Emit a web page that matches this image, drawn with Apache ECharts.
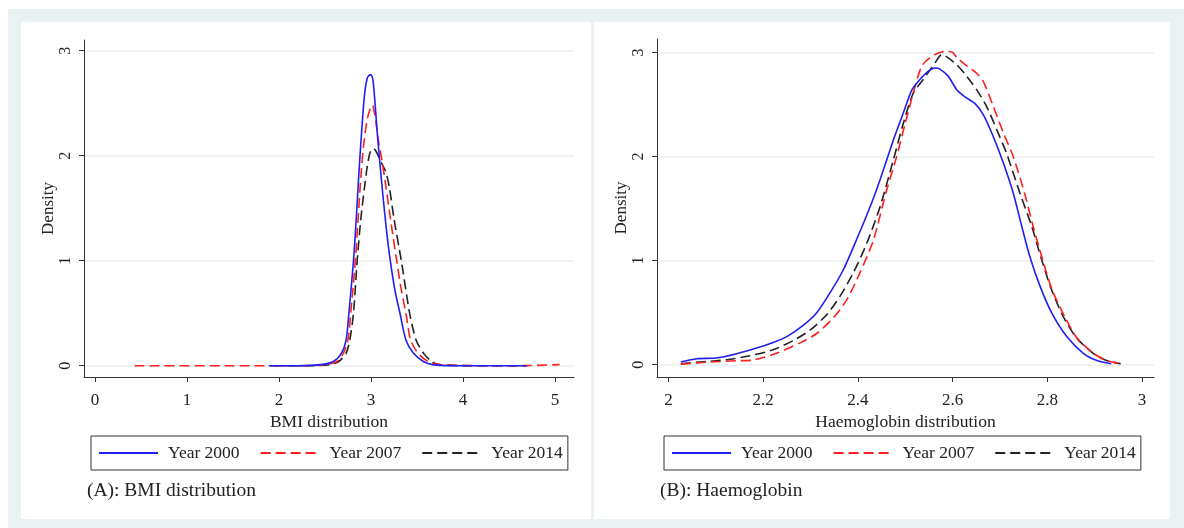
<!DOCTYPE html>
<html>
<head>
<meta charset="utf-8">
<script src="https://cdn.jsdelivr.net/npm/echarts@6/dist/echarts.min.js"></script>
<style>
html,body{margin:0;padding:0;background:#fff;}
#c{width:1184px;height:528px;}
</style>
</head>
<body>
<div id="c"></div>
<script>
// ---- Panel A: BMI distribution (log BMI) ----
var bmiX2000 = [1.89, 2.2, 2.45, 2.59, 2.68, 2.73, 2.76, 2.81, 2.84, 2.87, 2.90, 2.93, 2.96, 2.99, 3.00, 3.02, 3.04, 3.07, 3.10, 3.13, 3.17, 3.21, 3.26, 3.315, 3.38, 3.46, 3.57, 3.67, 3.9, 4.3, 4.69];
var bmiY2000 = [0.0, 0.0, 0.01, 0.04, 0.12, 0.245, 0.5, 1.0, 1.4, 1.85, 2.25, 2.58, 2.74, 2.77, 2.77, 2.73, 2.55, 2.2, 1.9, 1.62, 1.28, 1.0, 0.72, 0.5, 0.245, 0.12, 0.04, 0.01, 0.0, 0.0, 0.0];

var bmiX2007 = [0.43, 1.5, 2.3, 2.5, 2.63, 2.70, 2.75, 2.78, 2.83, 2.86, 2.89, 2.92, 2.96, 3.00, 3.015, 3.04, 3.08, 3.12, 3.16, 3.22, 3.28, 3.33, 3.38, 3.43, 3.51, 3.62, 3.75, 4.2, 4.6, 5.05];
var bmiY2007 = [0.0, 0.0, 0.0, 0.01, 0.04, 0.12, 0.245, 0.5, 1.0, 1.4, 1.8, 2.1, 2.35, 2.47, 2.48, 2.40, 2.15, 1.95, 1.72, 1.35, 1.0, 0.72, 0.5, 0.245, 0.12, 0.04, 0.01, 0.0, 0.0, 0.01];

var bmiX2014 = [1.95, 2.3, 2.55, 2.65, 2.73, 2.77, 2.81, 2.85, 2.89, 2.93, 2.96, 2.99, 3.025, 3.05, 3.09, 3.12, 3.16, 3.2, 3.25, 3.33, 3.42, 3.49, 3.57, 3.66, 3.75, 4.1, 4.7];
var bmiY2014 = [0.0, 0.0, 0.01, 0.04, 0.12, 0.245, 0.5, 1.0, 1.4, 1.7, 1.9, 2.03, 2.07, 2.05, 1.98, 1.92, 1.85, 1.7, 1.4, 1.0, 0.5, 0.245, 0.12, 0.04, 0.01, 0.0, 0.0];

// ---- Panel B: Haemoglobin (log Hb) ----
var hbX2000 = [2.026, 2.06, 2.10, 2.144, 2.186, 2.221, 2.25, 2.285, 2.313, 2.341, 2.369, 2.397, 2.426, 2.447, 2.475, 2.496, 2.514, 2.531, 2.549, 2.563, 2.573, 2.591, 2.609, 2.63, 2.647, 2.665, 2.686, 2.707, 2.728, 2.746, 2.763, 2.785, 2.809, 2.841, 2.876, 2.905, 2.935];
var hbY2000 = [0.026, 0.058, 0.064, 0.106, 0.16, 0.214, 0.27, 0.38, 0.50, 0.69, 0.91, 1.20, 1.52, 1.78, 2.16, 2.42, 2.64, 2.74, 2.82, 2.85, 2.84, 2.77, 2.64, 2.56, 2.51, 2.40, 2.19, 1.94, 1.65, 1.33, 1.04, 0.75, 0.50, 0.27, 0.11, 0.04, 0.01];

var hbX2007 = [2.026, 2.088, 2.144, 2.179, 2.228, 2.278, 2.313, 2.348, 2.376, 2.404, 2.433, 2.459, 2.48, 2.50, 2.521, 2.535, 2.552, 2.573, 2.587, 2.60, 2.609, 2.63, 2.651, 2.665, 2.686, 2.707, 2.728, 2.753, 2.77, 2.79, 2.81, 2.837, 2.862, 2.897, 2.925, 2.95];
var hbY2007 = [0.006, 0.026, 0.038, 0.045, 0.11, 0.21, 0.30, 0.45, 0.62, 0.88, 1.20, 1.65, 1.97, 2.32, 2.68, 2.87, 2.95, 3.0, 3.01, 3.0, 2.95, 2.87, 2.80, 2.72, 2.48, 2.23, 2.0, 1.63, 1.33, 1.01, 0.72, 0.46, 0.26, 0.11, 0.04, 0.015];

var hbX2014 = [2.026, 2.067, 2.123, 2.172, 2.221, 2.264, 2.30, 2.334, 2.362, 2.39, 2.419, 2.447, 2.475, 2.496, 2.517, 2.538, 2.563, 2.577, 2.587, 2.609, 2.63, 2.651, 2.672, 2.693, 2.714, 2.742, 2.767, 2.788, 2.809, 2.834, 2.862, 2.897, 2.925, 2.955];
var hbY2014 = [0.01, 0.026, 0.048, 0.086, 0.144, 0.233, 0.336, 0.48, 0.656, 0.88, 1.17, 1.52, 1.97, 2.32, 2.61, 2.74, 2.90, 2.98, 2.96, 2.88, 2.77, 2.64, 2.48, 2.26, 2.03, 1.65, 1.33, 1.01, 0.72, 0.46, 0.256, 0.11, 0.04, 0.01];

var seriesNames = ['Year 2000', 'Year 2007', 'Year 2014'];
var bmiTicks = [0, 1, 2, 3, 4, 5];
var hbTicks = [2, 2.2, 2.4, 2.6, 2.8, 3];
var densityTicks = [0, 1, 2, 3];
var xTitles = ['BMI distribution', 'Haemoglobin distribution'];
var captions = ['(A): BMI distribution', '(B): Haemoglobin'];

function pairs(xs, ys) { return xs.map(function (x, i) { return [x, ys[i]]; }); }

var FONT = '"Liberation Serif","Times New Roman",serif';
var TXT = '#222';
var AX = '#333';
var GRIDC = '#e9f1f3';
var BG = '#e9f1f3';

var styles = [
  { color: '#1f1ff5', type: 'solid' },
  { color: '#ff1f1f', type: [10, 5] },
  { color: '#222222', type: [10, 5] }
];

function makeX(idx, min, max, ticks, name) {
  return {
    type: 'value', gridIndex: idx, min: min, max: max,
    name: name, nameLocation: 'middle', nameGap: 30,
    nameTextStyle: { fontFamily: FONT, fontSize: 17.5, color: TXT },
    axisLine: { onZero: false, lineStyle: { color: AX, width: 1 } },
    axisTick: { show: true, length: 5, customValues: ticks, lineStyle: { color: AX } },
    axisLabel: { customValues: ticks, margin: 15, fontFamily: FONT, fontSize: 17, color: TXT,
      formatter: function (v) { return String(Math.round(v * 10) / 10); } },
    splitLine: { show: false }
  };
}
function makeY(idx, min, max) {
  return {
    type: 'value', gridIndex: idx, min: min, max: max,
    name: 'Density', nameLocation: 'middle', nameGap: 23,
    nameTextStyle: { fontFamily: FONT, fontSize: 17, color: TXT },
    axisLine: { onZero: false, show: true, lineStyle: { color: AX, width: 1 } },
    axisTick: { show: true, length: 5, customValues: densityTicks, lineStyle: { color: AX } },
    axisLabel: { customValues: densityTicks, rotate: 90, margin: 10, fontFamily: FONT, fontSize: 16, color: TXT },
    splitLine: { show: true, lineStyle: { color: GRIDC, width: 1.5 } }
  };
}

var data = [
  [pairs(bmiX2000, bmiY2000), pairs(bmiX2007, bmiY2007), pairs(bmiX2014, bmiY2014)],
  [pairs(hbX2000, hbY2000), pairs(hbX2007, hbY2007), pairs(hbX2014, hbY2014)]
];

var series = [];
for (var p = 0; p < 2; p++) {
  for (var s = 0; s < 3; s++) {
    series.push({
      type: 'line', name: seriesNames[s], xAxisIndex: p, yAxisIndex: p,
      data: data[p][s], symbol: 'none', smooth: 0.25, z: 3 - s + 2,
      lineStyle: { color: styles[s].color, type: styles[s].type, width: 1.6 },
      itemStyle: { color: styles[s].color },
      animation: false
    });
  }
}

function makeLegend(left) {
  return {
    left: left, top: 436, orient: 'horizontal',
    data: seriesNames, itemWidth: 59, itemHeight: 14, itemGap: 20,
    padding: [8, 5, 8, 7], borderColor: '#333', borderWidth: 1, backgroundColor: '#fff',
    itemStyle: { opacity: 0 },
    textStyle: { fontFamily: FONT, fontSize: 17.5, color: TXT, padding: [0, 0, 0, 5] },
    selectedMode: false
  };
}

var option = {
  animation: false,
  backgroundColor: '#fff',
  graphic: [
    { type: 'rect', z: -10, silent: true, shape: { x: 8, y: 9, width: 1176, height: 519 }, style: { fill: BG } },
    { type: 'rect', z: -9, silent: true, shape: { x: 21, y: 22, width: 570, height: 497 }, style: { fill: '#fff' } },
    { type: 'rect', z: -9, silent: true, shape: { x: 594, y: 22, width: 576, height: 497 }, style: { fill: '#fff' } }
  ],
  title: [
    { text: captions[0], left: 87, top: 481, padding: 0, textStyle: { fontFamily: FONT, fontSize: 19.5, fontWeight: 'normal', color: TXT } },
    { text: captions[1], left: 660, top: 481, padding: 0, textStyle: { fontFamily: FONT, fontSize: 19.5, fontWeight: 'normal', color: TXT } }
  ],
  legend: [makeLegend(91), makeLegend(664)],
  grid: [
    { left: 84, top: 40, width: 490, height: 337 },
    { left: 657, top: 39, width: 497, height: 338 }
  ],
  xAxis: [
    makeX(0, -0.1196, 5.207, bmiTicks, xTitles[0]),
    makeX(1, 1.9757, 3.0253, hbTicks, xTitles[1])
  ],
  yAxis: [
    makeY(0, -0.1076, 3.102),
    makeY(1, -0.118, 3.129)
  ],
  series: series
};

var chart = echarts.init(document.getElementById('c'), null, { renderer: 'canvas' });
chart.setOption(option);
</script>
</body>
</html>
